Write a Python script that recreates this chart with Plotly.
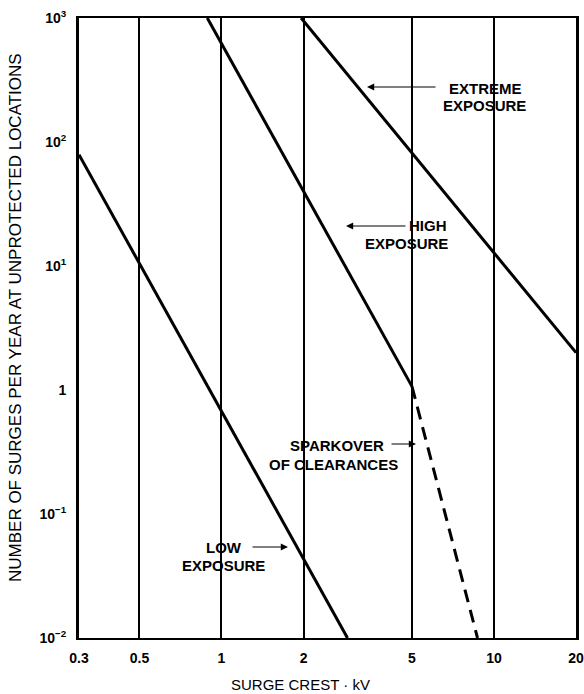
import plotly.graph_objects as go

# ---- data ----
low_x = [0.3, 2.9]
low_y = [79, 0.01]
high_x = [0.887, 5.0]
high_y = [1000, 1.07]
spark_x = [5.0, 8.7]
spark_y = [1.07, 0.01]
ext_x = [1.96, 20]
ext_y = [1000, 2.0]

x_ticks = [0.3, 0.5, 1, 2, 5, 10, 20]
x_ticktext = ["0.3", "0.5", "1", "2", "5", "10", "20"]
y_ticks = [0.01, 0.1, 1, 10, 100, 1000]
y_ticktext = ["10<sup>\u22122</sup>", "10<sup>\u22121</sup>", "1",
              "10<sup>1</sup>", "10<sup>2</sup>", "10<sup>3</sup>"]

FONT = "Liberation Sans"

fig = go.Figure()
line = dict(color="black", width=3)
fig.add_trace(go.Scatter(x=low_x, y=low_y, mode="lines", line=line, hoverinfo="skip"))
fig.add_trace(go.Scatter(x=high_x, y=high_y, mode="lines", line=line, hoverinfo="skip"))
fig.add_trace(go.Scatter(x=spark_x, y=spark_y, mode="lines",
                         line=dict(color="black", width=3, dash="13px,8px"), hoverinfo="skip"))
fig.add_trace(go.Scatter(x=ext_x, y=ext_y, mode="lines", line=line, hoverinfo="skip"))

# plot area in pixels
L, R, T, B = 79, 576, 18, 638
W, H = 584, 694


def px(xp):
    return (xp - L) / (R - L)


def py(yp):
    return (B - yp) / (B - T)


ann = []
tf = dict(family=FONT, size=15, color="black")


def label(text, xp, yp, anchor="center"):
    ann.append(dict(text="<b>" + text + "</b>", x=px(xp), y=py(yp), xref="paper", yref="paper",
                    showarrow=False, xanchor=anchor, yanchor="middle", font=tf))


def arrow(x_head, y_head, x_tail, y_tail):
    ann.append(dict(text="", x=px(x_head), y=py(y_head), xref="paper", yref="paper",
                    ax=x_tail - x_head, ay=y_tail - y_head, showarrow=True,
                    arrowhead=2, arrowsize=1.2, arrowwidth=1.2, arrowcolor="black"))


label("EXTREME", 485, 88)
label("EXPOSURE", 484, 105)
arrow(367, 87, 437, 87)

label("HIGH", 428, 226)
label("EXPOSURE", 406, 243)
arrow(346, 226, 407, 226)

label("SPARKOVER", 386, 445, "right")
label("OF CLEARANCES", 267, 464, "left")
arrow(416, 444, 390, 444)

label("LOW", 224, 547)
label("EXPOSURE", 223, 565)
arrow(288, 547, 251, 547)

# axis titles
ann.append(dict(text="SURGE CREST \u00b7 kV", x=px(300), y=py(684), xref="paper", yref="paper",
                showarrow=False, xanchor="center", yanchor="middle",
                font=dict(family=FONT, size=15, color="black")))
ann.append(dict(text="NUMBER OF SURGES PER YEAR AT UNPROTECTED LOCATIONS", x=px(15), y=py(318),
                xref="paper", yref="paper", showarrow=False, textangle=-90,
                xanchor="center", yanchor="middle",
                font=dict(family=FONT, size=17, color="black")))

fig.update_layout(
    width=W, height=H,
    margin=dict(l=L, r=W - R, t=T, b=H - B),
    paper_bgcolor="white", plot_bgcolor="white",
    showlegend=False,
    annotations=ann,
    font=dict(family=FONT, color="black"),
)
fig.update_xaxes(
    type="log", range=[-0.5229, 1.3010], automargin=False,
    tickvals=x_ticks, ticktext=["<b>" + t + "</b>" for t in x_ticktext],
    tickfont=dict(family=FONT, size=14, color="black"),
    ticks="outside", ticklen=6, tickcolor="rgba(0,0,0,0)",
    ticklabeloverflow="allow",
    showgrid=True, gridcolor="black", gridwidth=1.8,
    showline=True, linecolor="black", linewidth=1.6, mirror=True,
    zeroline=False,
)
fig.update_yaxes(
    type="log", range=[-2, 3], automargin=False,
    tickvals=y_ticks, ticktext=["<b>" + t + "</b>" for t in y_ticktext],
    tickfont=dict(family=FONT, size=14, color="black"),
    ticks="outside", ticklen=7, tickcolor="rgba(0,0,0,0)",
    ticklabeloverflow="allow",
    showgrid=False,
    showline=True, linecolor="black", linewidth=3, mirror=True,
    zeroline=False,
)

fig.write_html("out.html",
               config={"displayModeBar": False},
               post_script="document.body.style.margin='0';document.body.style.padding='0';"
                           "document.body.style.overflow='hidden';")
